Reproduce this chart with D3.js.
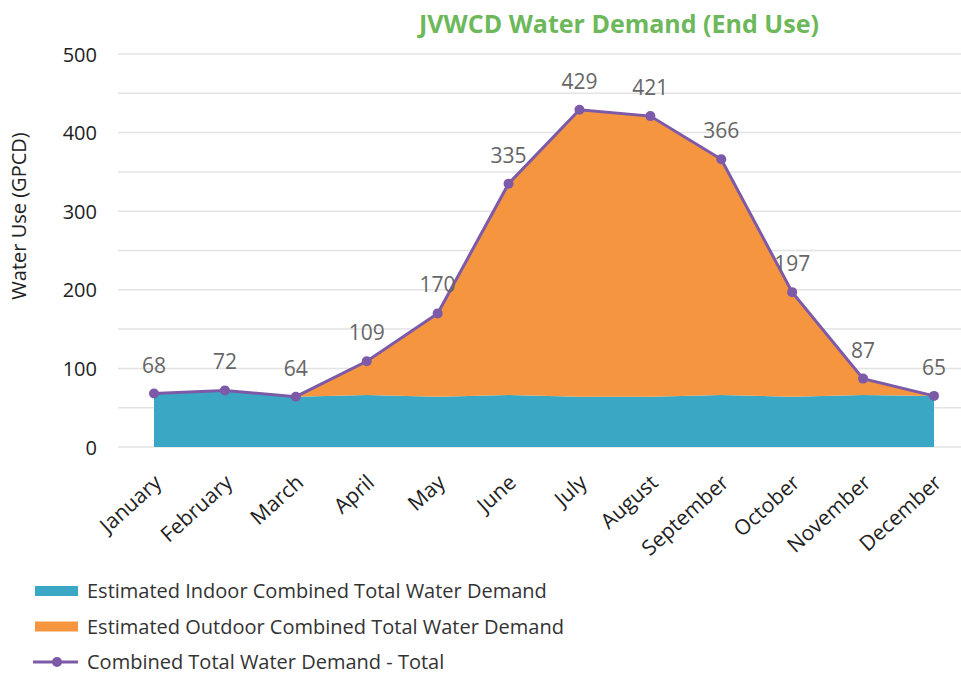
<!DOCTYPE html>
<html><head><meta charset="utf-8">
<script src="https://cdn.jsdelivr.net/npm/d3@7"></script>
<style>body{margin:0;background:#fff}svg{display:block}</style>
</head><body><svg id="c" width="961" height="677"></svg>
<script>
const months = ["January","February","March","April","May","June","July","August","September","October","November","December"];
const indoor = [68,72,64,66,64,66,64,64,66,64,66,65];
const outdoor = [0,0,0,43,106,269,365,357,300,133,21,0];
const total = [68,72,64,109,170,335,429,421,366,197,87,65];
const yTicks = [0,100,200,300,400,500];
const gridTicks = [0,50,100,150,200,250,300,350,400,450,500];

const svg = d3.select("#c");
const font = "'Open Sans', 'Noto Sans', sans-serif";
const x = d3.scalePoint().domain(months).range([154,934]);
const y = d3.scaleLinear().domain([0,500]).range([447,54]);

// grid
svg.append("g").selectAll("line").data(gridTicks).join("line")
  .attr("x1",118).attr("x2",961).attr("y1",d=>y(d)).attr("y2",d=>y(d))
  .attr("stroke","#e3e3e3").attr("stroke-width",1.5);

const data = months.map((m,i)=>({m, indoor:indoor[i], outdoor:outdoor[i], total:total[i]}));
const stack = d3.stack().keys(["indoor","outdoor"])(data);
const area = d3.area().x(d=>x(d.data.m)).y0(d=>y(d[0])).y1(d=>y(d[1]));
const colors = {indoor:"#3aa8c5", outdoor:"#f59540"};
svg.append("g").selectAll("path").data(stack).join("path")
  .attr("d",area).attr("fill",d=>colors[d.key]);

// total line
svg.append("path").datum(data)
  .attr("d", d3.line().x(d=>x(d.m)).y(d=>y(d.total)))
  .attr("fill","none").attr("stroke","#7d5aa8").attr("stroke-width",3);
svg.append("g").selectAll("circle").data(data).join("circle")
  .attr("cx",d=>x(d.m)).attr("cy",d=>y(d.total)).attr("r",5).attr("fill","#7d5aa8");
svg.append("g").selectAll("text").data(data).join("text")
  .attr("x",d=>x(d.m)).attr("y",d=>y(d.total)-21)
  .attr("text-anchor","middle").attr("font-family",font).attr("font-size",21)
  .attr("fill","#666").text(d=>d.total);

// y axis labels
const yAxis = d3.axisLeft(y).tickValues(yTicks).tickSize(0).tickPadding(0);
const ya = svg.append("g").attr("transform","translate(97,0)").call(yAxis);
ya.select(".domain").remove();
ya.selectAll("text").attr("font-family",font).attr("font-size",20).attr("fill","#222").attr("dy","0.35em");

svg.append("text").attr("transform","translate(26,216) rotate(-90)")
  .attr("text-anchor","middle").attr("font-family",font).attr("font-size",20).attr("fill","#222")
  .text("Water Use (GPCD)");

// x axis labels
const xAxis = d3.axisBottom(x).tickSize(0).tickPadding(0);
const xa = svg.append("g").call(xAxis);
xa.select(".domain").remove();
xa.selectAll(".tick").attr("transform",d=>`translate(${x(d)+4},479)`);
xa.selectAll("text").attr("font-family",font).attr("font-size",21).attr("fill","#222")
  .attr("text-anchor","end").attr("y",0).attr("dy","0.35em")
  .attr("transform","rotate(-42)");

// title
svg.append("text").attr("x",619).attr("y",33).attr("text-anchor","middle")
  .attr("font-family",font).attr("font-weight","bold").attr("font-size",25).attr("fill","#6cb85a")
  .text("JVWCD Water Demand (End Use)");

// legend
const legend = [
  {label:"Estimated Indoor Combined Total Water Demand", type:"area", color:colors.indoor},
  {label:"Estimated Outdoor Combined Total Water Demand", type:"area", color:colors.outdoor},
  {label:"Combined Total Water Demand - Total", type:"line", color:"#7d5aa8"}
];
const lg = svg.append("g").selectAll("g").data(legend).join("g")
  .attr("transform",(d,i)=>`translate(0,${591+i*35.5})`);
lg.filter(d=>d.type==="area").append("rect").attr("x",35).attr("y",-5).attr("width",43).attr("height",10).attr("fill",d=>d.color);
lg.filter(d=>d.type==="line").append("line").attr("x1",33).attr("x2",78).attr("stroke",d=>d.color).attr("stroke-width",3);
lg.filter(d=>d.type==="line").append("circle").attr("cx",57).attr("r",5).attr("fill",d=>d.color);
lg.append("text").attr("x",87).attr("dy","0.35em").attr("font-family",font).attr("font-size",20).attr("fill","#333").text(d=>d.label);
</script></body></html>
